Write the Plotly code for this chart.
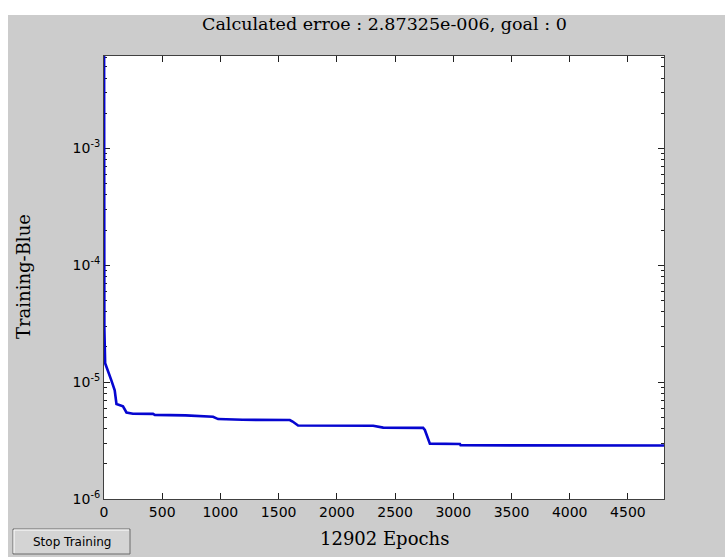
import plotly.graph_objects as go

# Data
epochs = [0, 3, 10, 34, 64, 92, 107, 163, 193, 249, 421, 436, 700, 937, 980,
          1190, 1596, 1620, 1667, 2312, 2398, 2741, 2756, 2799, 3057, 3063, 4810]
perf = [5e-2, 2.9e-5, 1.45e-5, 1.22e-5, 1.03e-5, 8.5e-6, 6.5e-6, 6.2e-6, 5.5e-6,
        5.37e-6, 5.35e-6, 5.25e-6, 5.2e-6, 5.05e-6, 4.83e-6,
        4.76e-6, 4.74e-6, 4.6e-6, 4.26e-6, 4.24e-6, 4.08e-6, 4.06e-6, 3.9e-6,
        2.98e-6, 2.96e-6, 2.88e-6, 2.87325e-6]
x_ticks = [0, 500, 1000, 1500, 2000, 2500, 3000, 3500, 4000, 4500]
y_ticks = [1e-6, 1e-5, 1e-4, 1e-3]
y_labels = ["10<sup>-6</sup>", "10<sup>-5</sup>", "10<sup>-4</sup>", "10<sup>-3</sup>"]
y_minor = [m * d for d in (1e-6, 1e-5, 1e-4, 1e-3) for m in range(2, 10)]
title_text = "Calculated erroe : 2.87325e-006, goal : 0"
x_title = "12902 Epochs"
y_title = "Training-Blue"
button_text = "Stop Training"

W, H = 725, 557
L, R, T, B = 104, 61, 56, 58
PW, PH = W - L - R, H - T - B
Y_RANGE = [-6, -2.209]


def px(x):
    return (x - L) / PW


def py(y):
    return (H - B - y) / PH


fig = go.Figure()
# invisible helper trace so the minor-tick overlay axis is drawn
fig.add_trace(go.Scatter(x=[], y=[], yaxis="y2", mode="lines",
                         showlegend=False, hoverinfo="skip"))
fig.add_trace(go.Scatter(x=epochs, y=perf, mode="lines",
                         line=dict(color="#0606d0", width=2.6), showlegend=False))

tickfont = dict(family="DejaVu Sans, sans-serif", size=14, color="black")
serif = "DejaVu Serif, serif"

fig.update_layout(
    width=W, height=H,
    margin=dict(l=L, r=R, t=T, b=B),
    paper_bgcolor="#cccccc",
    plot_bgcolor="white",
    xaxis=dict(range=[0, 4810], tickvals=x_ticks, ticks="inside", ticklen=6,
               tickcolor="#202020", showline=True, linecolor="#404040", linewidth=1,
               mirror="ticks", showgrid=False, zeroline=False, tickfont=tickfont,
               layer="below traces"),
    yaxis=dict(type="log", range=Y_RANGE, tickvals=y_ticks, ticktext=y_labels,
               ticks="inside", ticklen=6, tickcolor="#202020", showline=True,
               linecolor="#404040", linewidth=1, mirror="ticks", showgrid=False,
               zeroline=False, tickfont=tickfont, layer="below traces"),
    yaxis2=dict(type="log", range=Y_RANGE, overlaying="y", anchor="x", side="left",
                tickvals=y_minor, showticklabels=False, ticks="inside", ticklen=3,
                tickcolor="#202020", showline=False, mirror="ticks",
                showgrid=False, zeroline=False, layer="below traces"),
    shapes=[
        dict(type="rect", xref="paper", yref="paper", x0=px(0), x1=px(W),
             y0=py(0), y1=py(15), fillcolor="white", line=dict(width=0)),
        dict(type="rect", xref="paper", yref="paper", x0=px(0), x1=px(8),
             y0=py(0), y1=py(H), fillcolor="white", line=dict(width=0)),
        dict(type="rect", xref="paper", yref="paper", x0=px(13), x1=px(130),
             y0=py(529), y1=py(554), fillcolor="#d4d4d4",
             line=dict(width=1, color="#6a6a6a")),
        dict(type="line", xref="paper", yref="paper", x0=px(14), x1=px(129),
             y0=py(530), y1=py(530), line=dict(width=1, color="white")),
        dict(type="line", xref="paper", yref="paper", x0=px(14), x1=px(14),
             y0=py(530), y1=py(553), line=dict(width=1, color="white")),
    ],
    annotations=[
        dict(text=title_text, xref="paper", yref="paper", x=0.5, y=py(24),
             showarrow=False, xanchor="center", yanchor="middle",
             font=dict(family=serif, size=17.5, color="black")),
        dict(text=x_title, xref="paper", yref="paper", x=0.5, y=py(538),
             showarrow=False, xanchor="center", yanchor="middle",
             font=dict(family=serif, size=18, color="black")),
        dict(text=y_title, xref="paper", yref="paper", x=px(23), y=py(276),
             showarrow=False, xanchor="center", yanchor="middle", textangle=-90,
             font=dict(family=serif, size=18, color="black")),
        dict(text=button_text, xref="paper", yref="paper", x=px(71.5), y=py(541.5),
             showarrow=False, xanchor="center", yanchor="middle",
             font=dict(family="DejaVu Sans, sans-serif", size=12, color="black")),
    ],
)

fig.write_html("out.html")
